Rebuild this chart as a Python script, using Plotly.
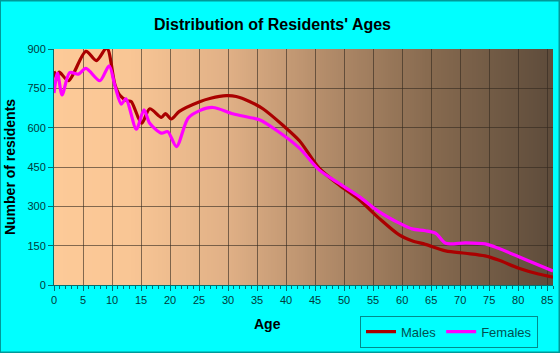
import base64
import struct
import zlib

import plotly.graph_objects as go
from plotly.colors import sample_colorscale, unlabel_rgb

# ---- data ----
male_age = [0, 0.5, 0.9, 2.5, 5.5, 7.3, 9.1, 10.5, 11.3, 12.7, 13.3, 15.1, 16.5, 18.5, 19.2, 20.2, 21.6,
            25, 27, 29.7, 31.4, 33.7, 36, 39.4, 42.3, 45.7, 49.1, 52.6, 56, 59.5, 61.7, 64, 67.5,
            70.9, 74.3, 76.6, 80.1, 83.5, 86]
male_val = [815, 785, 812, 779, 891, 856, 904, 764, 725, 702, 700, 617, 672, 639, 654, 633, 662,
            698, 712, 722, 719, 700, 672, 610, 550, 446, 382, 325, 255, 191, 169, 155, 130,
            121, 111, 95, 64, 42, 30]

female_age = [0, 0.6, 1.4, 2.7, 4.2, 5.5, 7.9, 9.5, 10.5, 11.6, 12.4, 14.2, 15.5, 16.5, 18.5, 19.6, 21.1,
              23.1, 25.1, 27.4, 30.8, 33.7, 35.4, 38.2, 42.3, 45.7, 49.1, 52.6, 56, 59.5, 61.7, 64,
              65.8, 67.5, 70.9, 74.3, 76.6, 80.1, 83.5, 86]
female_val = [732, 808, 725, 810, 804, 826, 779, 836, 760, 690, 710, 594, 668, 617, 579, 585, 528,
              636, 665, 677, 653, 639, 630, 592, 522, 439, 388, 337, 280, 236, 214, 207,
              197, 159, 161, 157, 140, 108, 76, 53]

x_ticks = list(range(0, 90, 5))
y_ticks = [0, 150, 300, 450, 600, 750, 900]

TEXT = "#003a3a"
FONT = "Liberation Sans, Arial, sans-serif"


def gradient_png(scale, width=256):
    """Horizontal gradient as a 1-pixel-tall PNG data URI."""
    row = bytearray([0])
    for i in range(width):
        c = sample_colorscale(scale, [i / (width - 1)], colortype="rgb")[0]
        r, g, b = [int(round(float(v))) for v in unlabel_rgb(c)]
        row += bytes([r, g, b])
    raw = bytes(row)

    def chunk(tag, data):
        return struct.pack(">I", len(data)) + tag + data + struct.pack(">I", zlib.crc32(tag + data) & 0xFFFFFFFF)

    png = b"\x89PNG\r\n\x1a\n"
    png += chunk(b"IHDR", struct.pack(">IIBBBBB", width, 1, 8, 2, 0, 0, 0))
    png += chunk(b"IDAT", zlib.compress(raw))
    png += chunk(b"IEND", b"")
    return "data:image/png;base64," + base64.b64encode(png).decode()


bg_scale = [[0, "#FDCA98"], [0.15, "#F9C695"], [0.35, "#E0B086"], [0.55, "#B28B69"],
            [0.75, "#886B50"], [1, "#5E4C3B"]]

fig = go.Figure()

fig.add_trace(go.Scatter(x=male_age, y=male_val, name="Males", mode="lines",
                         line=dict(color="#AA0000", width=3.2, shape="spline", smoothing=0.8)))
fig.add_trace(go.Scatter(x=female_age, y=female_val, name="Females", mode="lines",
                         line=dict(color="#FF00FF", width=3.2, shape="spline", smoothing=0.8)))

fig.update_layout(
    width=560, height=353,
    margin=dict(l=54, r=7, t=49, b=68, autoexpand=False),
    paper_bgcolor="#00FFFF", plot_bgcolor="#FDCA98",
    font=dict(family=FONT, color=TEXT, size=11),
    showlegend=True,
    legend=dict(orientation="h", x=(360 - 54) / 499, y=-0.13, xanchor="left", yanchor="top",
                bordercolor="#008C8C", borderwidth=1, bgcolor="rgba(0,0,0,0)",
                font=dict(size=13, color="#005050", family=FONT),
                itemwidth=30, tracegroupgap=0),
    xaxis=dict(range=[0, 86], tickvals=x_ticks, ticktext=[str(t) for t in x_ticks],
               showgrid=True, gridcolor="rgba(50,40,30,0.6)", gridwidth=1,
               showline=True, linecolor="#007070", linewidth=1,
               ticks="outside", ticklen=5, tickcolor="#007070",
               minor=dict(dtick=1, ticks="outside", ticklen=3, tickcolor="#007070", showgrid=False),
               tickfont=dict(size=11, color=TEXT), zeroline=False, fixedrange=True),
    yaxis=dict(range=[0, 900], tickvals=y_ticks, ticktext=[str(t) for t in y_ticks],
               showgrid=True, gridcolor="rgba(50,40,30,0.6)", gridwidth=1,
               showline=True, linecolor="#007070", linewidth=1,
               ticks="outside", ticklen=5, tickcolor="#007070",
               tickfont=dict(size=11, color=TEXT), zeroline=False,
               title=dict(text="<b>Number of residents</b>", font=dict(size=14, color="#000000"), standoff=8)),
    images=[dict(source=gradient_png(bg_scale), xref="paper", yref="paper", x=0, y=1,
                 sizex=1, sizey=1, xanchor="left", yanchor="top", sizing="stretch", layer="below")],
    annotations=[
        dict(text="<b>Distribution of Residents' Ages</b>", xref="paper", yref="paper",
             x=(272 - 54) / 499, y=1 + (49 - 24) / 236, xanchor="center", yanchor="middle",
             showarrow=False, font=dict(size=16, color="#000000", family=FONT)),
        dict(text="<b>Age</b>", xref="paper", yref="paper",
             x=(267 - 54) / 499, y=-(324 - 285) / 236, xanchor="center", yanchor="middle",
             showarrow=False, font=dict(size=14, color="#000000", family=FONT)),
    ],
    shapes=[dict(type="rect", xref="paper", yref="paper", x0=-54 / 499, x1=1 + 6.5 / 499,
                 y0=-67.5 / 236, y1=1 + 48.5 / 236, line=dict(color="#009999", width=2),
                 fillcolor="rgba(0,0,0,0)", layer="above")],
)

fig.write_html("out.html")
